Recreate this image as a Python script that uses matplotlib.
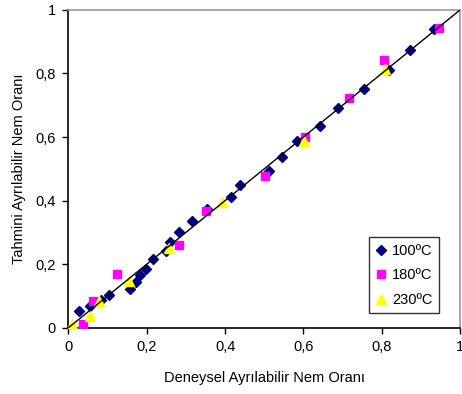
import matplotlib
matplotlib.use("Agg")
import matplotlib.pyplot as plt
from matplotlib.ticker import FuncFormatter

plt.rcParams['font.family'] = ['Liberation Sans', 'DejaVu Sans']

x100 = [0.027, 0.055, 0.084, 0.104, 0.158, 0.173, 0.183, 0.198, 0.215, 0.248, 0.259, 0.282, 0.316,
        0.354, 0.415, 0.439, 0.513, 0.546, 0.583, 0.643, 0.687, 0.755, 0.818, 0.871, 0.933]
y100 = [0.053, 0.068, 0.089, 0.104, 0.123, 0.144, 0.167, 0.186, 0.216, 0.243, 0.271, 0.302, 0.337,
        0.373, 0.411, 0.450, 0.492, 0.538, 0.586, 0.636, 0.691, 0.750, 0.810, 0.873, 0.941]

x180 = [0.038, 0.064, 0.124, 0.283, 0.352, 0.501, 0.603, 0.717, 0.806, 0.946]
y180 = [0.012, 0.085, 0.168, 0.261, 0.366, 0.479, 0.601, 0.724, 0.842, 0.942]

x230 = [0.010, 0.055, 0.079, 0.154, 0.256, 0.392, 0.602, 0.809]
y230 = [0.013, 0.037, 0.083, 0.148, 0.250, 0.395, 0.586, 0.814]

ticks = [0, 0.2, 0.4, 0.6, 0.8, 1]
labels = ["100ºC", "180ºC", "230ºC"]

fig = plt.figure(figsize=(4.62, 3.94), dpi=100)
ax = fig.add_axes([0.148, 0.168, 0.848, 0.807])

ax.plot(x100, y100, linestyle='none', marker='D', markersize=5.5, color='#000080',
        markeredgecolor='#000080', label=labels[0], zorder=3)
ax.plot(x180, y180, linestyle='none', marker='s', markersize=5.5, color='#FF00FF',
        markeredgecolor='#FF00FF', label=labels[1], zorder=4)
ax.plot(x230, y230, linestyle='none', marker='^', markersize=6.5, color='#FFFF00',
        markeredgecolor='#FFFF00', label=labels[2], zorder=5)
ax.plot([0, 1], [0, 1], color='black', linewidth=1.0, zorder=6)

ax.set_xlim(0, 1)
ax.set_ylim(0, 1)
ax.set_xticks(ticks)
ax.set_yticks(ticks)
fmt = FuncFormatter(lambda v, p: ('%g' % v).replace('.', ','))
ax.xaxis.set_major_formatter(fmt)
ax.yaxis.set_major_formatter(fmt)
ax.tick_params(direction='out', length=4, width=1, labelsize=10.5, colors='black', pad=5)

for s in ['top', 'right']:
    ax.spines[s].set_color('#999999')
    ax.spines[s].set_linewidth(1.2)
for s in ['left', 'bottom']:
    ax.spines[s].set_color('black')
    ax.spines[s].set_linewidth(1.2)

ax.set_xlabel("Deneysel Ayrılabilir Nem Oranı", fontsize=10.5, labelpad=12)
ax.set_ylabel("Tahmini Ayrılabilir Nem Oranı", fontsize=10.5, labelpad=7)

leg = ax.legend(loc='lower right', bbox_to_anchor=(0.946, 0.045), frameon=True, fancybox=False,
                edgecolor='black', fontsize=10.5, handlelength=0.7, handletextpad=0.4,
                borderpad=0.45, labelspacing=0.72, borderaxespad=0)
leg.get_frame().set_linewidth(1.0)

fig.savefig("out.png", dpi=100)
